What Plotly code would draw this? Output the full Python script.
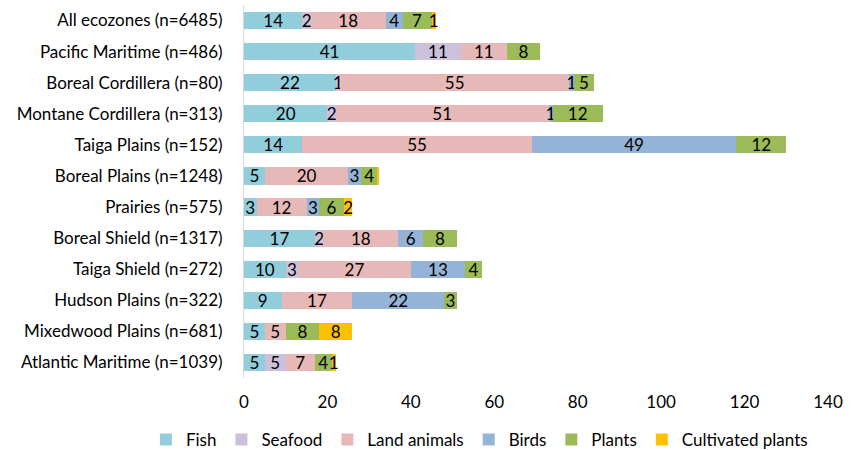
import plotly.graph_objects as go

categories = ["All ecozones (n=6485)", "Pacific Maritime (n=486)", "Boreal Cordillera (n=80)",
              "Montane Cordillera (n=313)", "Taiga Plains (n=152)", "Boreal Plains (n=1248)",
              "Prairies (n=575)", "Boreal Shield (n=1317)", "Taiga Shield (n=272)",
              "Hudson Plains (n=322)", "Mixedwood Plains (n=681)", "Atlantic Maritime (n=1039)"]

fish = [14, 41, 22, 20, 14, 5, 3, 17, 10, 9, 5, 5]
seafood = [2, 11, 1, 2, 0, 0, 0, 2, 3, 0, 0, 5]
land_animals = [18, 11, 55, 51, 55, 20, 12, 18, 27, 17, 5, 7]
birds = [4, 0, 1, 1, 49, 3, 3, 6, 13, 22, 0, 0]
plants = [7, 8, 5, 12, 12, 4, 6, 8, 4, 3, 8, 4]
cultivated = [1, 0, 0, 0, 0, 0.3, 2, 0, 0, 0, 8, 1]

series = [
    ("Fish", fish, "#92CDDC"),
    ("Seafood", seafood, "#CCC0DA"),
    ("Land animals", land_animals, "#E6B9B8"),
    ("Birds", birds, "#95B3D7"),
    ("Plants", plants, "#9BBB59"),
    ("Cultivated plants", cultivated, "#FFC000"),
]

FONT = "Lato"
FS = 17

fig = go.Figure()
for name, vals, color in series:
    labels = [str(int(round(v))) if v >= 0.5 else "" for v in vals]
    fig.add_trace(go.Bar(
        y=categories, x=vals, name=name, orientation="h",
        marker=dict(color=color, line=dict(width=0)),
        text=labels, textposition="inside", insidetextanchor="middle",
        textangle=0, constraintext="none", cliponaxis=False,
        textfont=dict(family=FONT, size=FS, color="#000000"),
        hoverinfo="x+y+name",
    ))

fig.update_layout(
    barmode="stack",
    bargap=0.45,
    width=858, height=450,
    margin=dict(l=244, r=30, t=5, b=72, autoexpand=False),
    paper_bgcolor="white", plot_bgcolor="white",
    font=dict(family=FONT, size=FS, color="#000000"),
    uniformtext=dict(mode=False),
    legend=dict(orientation="h", traceorder="normal",
                x=-0.168, xanchor="left",
                y=-0.166, yanchor="middle",
                font=dict(family=FONT, size=FS, color="#000000"),
                itemwidth=30, tracegroupgap=0),
    xaxis=dict(range=[0, 140], dtick=20, showgrid=False, zeroline=False, showline=False,
               ticks="", ticklabelstandoff=12, tickfont=dict(family=FONT, size=FS),
               fixedrange=True),
    yaxis=dict(autorange="reversed", showgrid=False, showline=True, linecolor="#D9D9D9",
               linewidth=1, ticks="", ticklabelstandoff=17, tickfont=dict(family=FONT, size=FS)),
)

fig.write_html("out.html")
